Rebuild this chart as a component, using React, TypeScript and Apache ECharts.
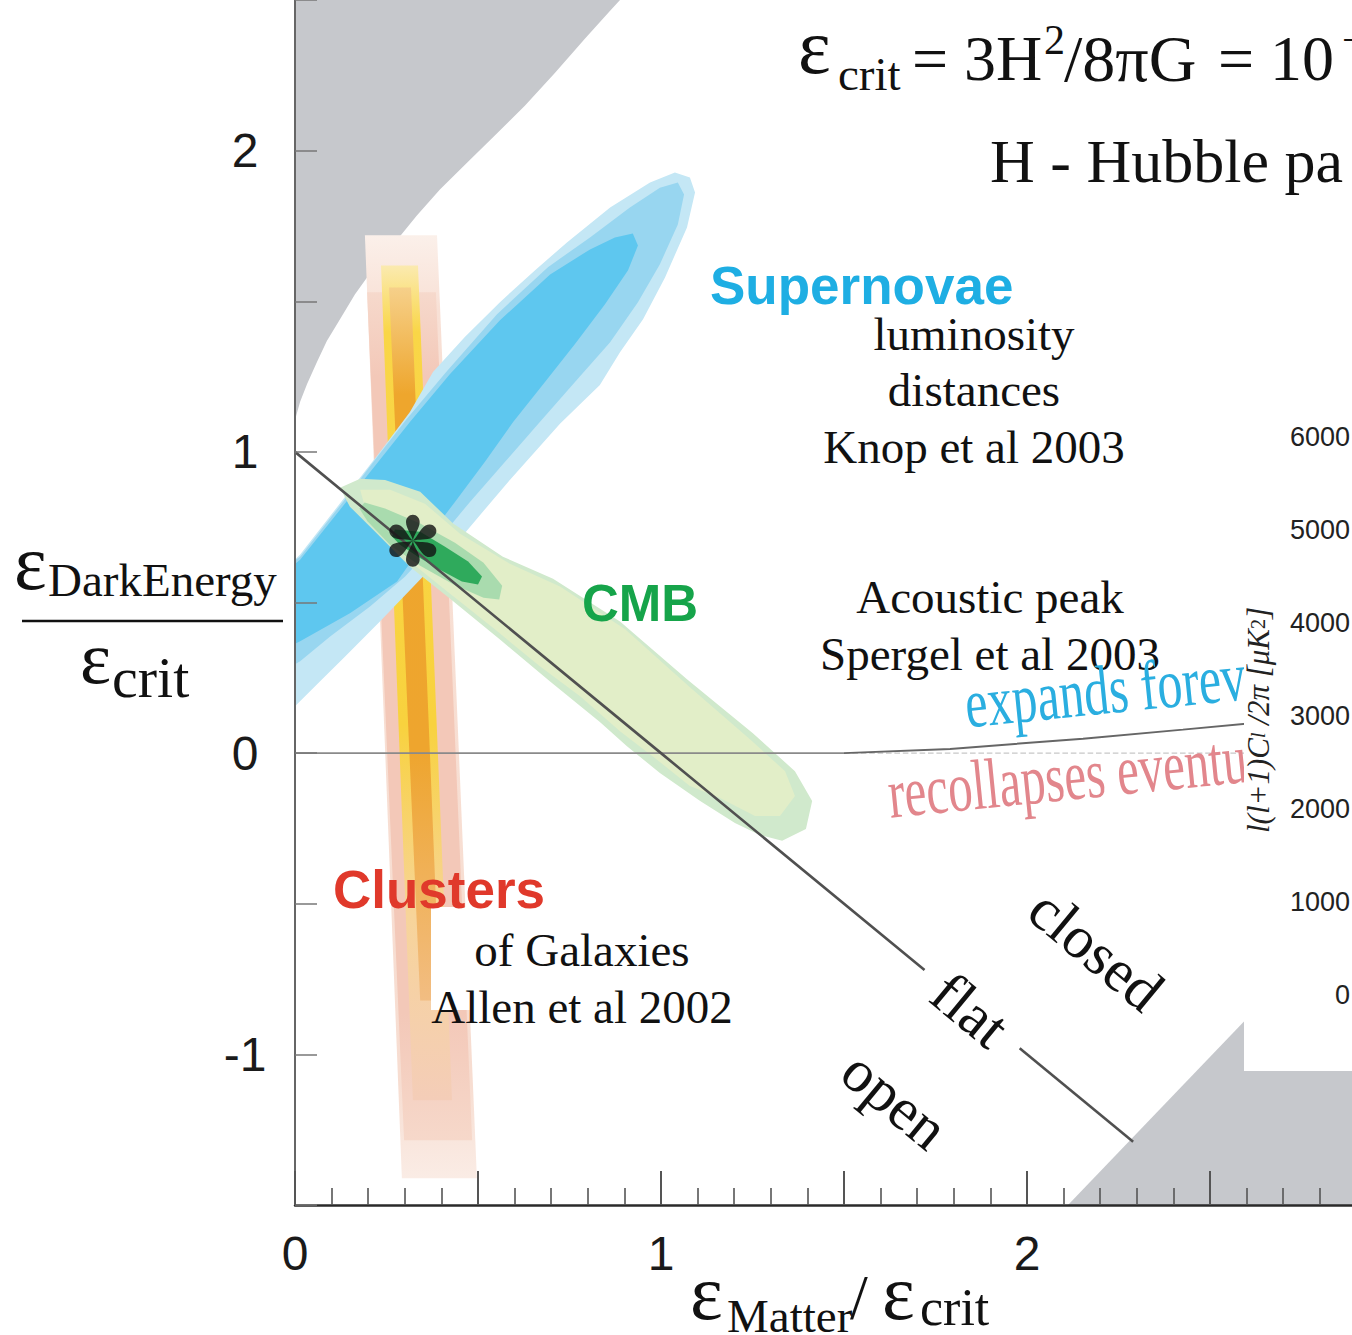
import React, { useEffect, useRef } from 'react';
import * as echarts from 'echarts';

// ---------- axis data ----------
const xRange = [0, 3];
const yRange = [-1.5, 2.5];
const xLabeledTicks = [0, 1, 2];
const yLabeledTicks = [-1, 0, 1, 2];
const insetTicks = [0, 6000];

// ---------- regions (data coordinates: matter density, dark-energy density) ----------
const noBigBangRegion = [
  [0, 2.5], [0.888, 2.5], [0.861, 2.464], [0.792, 2.371], [0.71, 2.258], [0.628, 2.149],
  [0.546, 2.05], [0.47, 1.96], [0.396, 1.871], [0.333, 1.785], [0.273, 1.695], [0.213, 1.606],
  [0.164, 1.523], [0.123, 1.44], [0.087, 1.368], [0.06, 1.298], [0.033, 1.225], [0.014, 1.166],
  [0.003, 1.119], [0, 1.099],
];
const bottomRightRegion = [[2.112, -1.5], [3.0, -0.375], [3.0, -1.5]];

const clustersHalo = [[0.191, 1.719], [0.388, 1.719], [0.497, -1.411], [0.292, -1.411]];
const clustersBand = [[0.197, 1.53], [0.385, 1.53], [0.484, -1.285], [0.298, -1.285]];
const clustersYellow = [[0.235, 1.619], [0.336, 1.619], [0.429, -1.152], [0.322, -1.152]];
const clustersCore = [[0.257, 1.546], [0.317, 1.546], [0.396, -0.821], [0.342, -0.821]];

const snOuter = [
  [0, 0.643], [0.014, 0.659], [0.137, 0.851], [0.232, 1.0], [0.314, 1.132], [0.377, 1.265],
  [0.464, 1.381], [0.56, 1.497], [0.656, 1.603], [0.743, 1.695], [0.861, 1.811], [0.97, 1.894],
  [1.038, 1.927], [1.079, 1.911], [1.093, 1.861], [1.071, 1.745], [1.011, 1.579], [0.951, 1.44],
  [0.888, 1.331], [0.833, 1.222], [0.724, 1.093], [0.587, 0.907], [0.451, 0.712], [0.342, 0.576],
  [0.232, 0.437], [0.137, 0.321], [0.068, 0.238], [0, 0.156],
];
const snMiddle = [
  [0, 0.64], [0.014, 0.652], [0.131, 0.834], [0.227, 0.987], [0.303, 1.106], [0.413, 1.265],
  [0.552, 1.457], [0.691, 1.613], [0.806, 1.712], [0.915, 1.811], [0.997, 1.877], [1.046, 1.894],
  [1.063, 1.854], [1.046, 1.755], [0.997, 1.623], [0.937, 1.497], [0.861, 1.364], [0.765, 1.232],
  [0.669, 1.099], [0.574, 0.967], [0.478, 0.834], [0.388, 0.702], [0.301, 0.586], [0.205, 0.487],
  [0.096, 0.387], [0.014, 0.305], [0, 0.295],
];
const snInner = [
  [0, 0.628], [0.014, 0.642], [0.123, 0.808], [0.232, 0.974], [0.314, 1.099], [0.423, 1.258],
  [0.56, 1.437], [0.697, 1.589], [0.806, 1.672], [0.874, 1.712], [0.923, 1.725], [0.937, 1.685],
  [0.91, 1.603], [0.847, 1.49], [0.765, 1.358], [0.683, 1.232], [0.596, 1.099], [0.519, 0.967],
  [0.437, 0.834], [0.355, 0.702], [0.279, 0.57], [0.15, 0.464], [0.014, 0.371], [0, 0.363],
];

const cmbOuter = [
  [0.123, 0.881], [0.178, 0.911], [0.246, 0.907], [0.342, 0.868], [0.432, 0.762], [0.568, 0.652],
  [0.705, 0.579], [0.888, 0.437], [1.071, 0.245], [1.251, 0.066], [1.366, -0.06], [1.413, -0.159],
  [1.396, -0.252], [1.331, -0.291], [1.27, -0.272], [1.202, -0.232], [1.107, -0.159], [0.997, -0.066],
  [0.907, 0.023], [0.833, 0.103], [0.697, 0.238], [0.56, 0.377], [0.423, 0.513], [0.314, 0.619],
  [0.219, 0.735], [0.15, 0.818],
];
const cmbInner = [
  [0.178, 0.874], [0.26, 0.874], [0.355, 0.828], [0.451, 0.728], [0.587, 0.629], [0.724, 0.553],
  [0.902, 0.411], [1.079, 0.219], [1.243, 0.046], [1.339, -0.06], [1.366, -0.142], [1.325, -0.209],
  [1.257, -0.209], [1.161, -0.149], [1.079, -0.109], [0.984, -0.017], [0.888, 0.073], [0.779, 0.189],
  [0.669, 0.288], [0.546, 0.411], [0.423, 0.53], [0.314, 0.636], [0.232, 0.735], [0.191, 0.818],
];
const cmbTwoSigma = [
  [0.19, 0.832], [0.246, 0.812], [0.342, 0.762], [0.437, 0.698], [0.515, 0.632], [0.566, 0.556],
  [0.558, 0.51], [0.515, 0.516], [0.437, 0.557], [0.342, 0.622], [0.262, 0.688], [0.198, 0.77],
  [0.176, 0.812],
];
const cmbOneSigma = [
  [0.273, 0.742], [0.342, 0.735], [0.41, 0.685], [0.473, 0.636], [0.511, 0.586], [0.5, 0.56],
  [0.456, 0.57], [0.396, 0.609], [0.336, 0.652], [0.287, 0.692], [0.265, 0.719],
];

// ---------- lines ----------
const flatLineA = [[0, 1], [1, 0], [1.72, -0.72]];
const flatLineB = [[1.98, -0.98], [2.29, -1.29]];
const zeroLine = [[0, 0], [1.5, 0]];
const zeroLineDashed = [[1.5, 0], [2.62, 0]];
const expansionBoundary = [[1.5, 0], [1.79, 0.014], [2.153, 0.048], [2.426, 0.078], [2.62, 0.1]];
const bestFit = [[0.322, 0.705]];

const SERIF = "'Liberation Serif', 'Times New Roman', serif";
const SANS = "'Liberation Sans', Arial, Helvetica, sans-serif";

function asteriskSymbol(): string {
  const angles = [90, 30, -30, -90, -150, 150];
  let d = '';
  for (const a of angles) {
    const r = (a * Math.PI) / 180;
    const ux = Math.cos(r), uy = -Math.sin(r);
    const vx = Math.sin(r), vy = Math.cos(r);
    const P = (p: number, q: number) =>
      `${(p * ux + q * vx).toFixed(2)} ${(p * uy + q * vy).toFixed(2)}`;
    d += `M${P(0, 0)} C${P(6, -0.9)} ${P(12, -6.6)} ${P(18.5, -6.8)} C${P(22.8, -6.9)} ${P(26, -3.8)} ${P(26, 0)} C${P(26, 3.8)} ${P(22.8, 6.9)} ${P(18.5, 6.8)} C${P(12, 6.6)} ${P(6, 0.9)} ${P(0, 0)} Z `;
  }
  return 'path://' + d;
}

const grad = (stops: [number, string][]) =>
  new echarts.graphic.LinearGradient(0, 0, 0, 1, stops.map(([offset, color]) => ({ offset, color })));

export default function App() {
  const ref = useRef<HTMLDivElement>(null);

  useEffect(() => {
    if (!ref.current) return;
    const chart = echarts.init(ref.current, null, { renderer: 'svg' });

    const layers: { pts: number[][]; fill: any }[] = [
      { pts: noBigBangRegion, fill: '#c6c8cc' },
      { pts: bottomRightRegion, fill: '#c6c8cc' },
      { pts: clustersHalo, fill: grad([[0, '#fbf0ea'], [0.08, '#f8e0d5'], [0.9, '#f7ddd1'], [1, '#faece5']]) },
      { pts: clustersBand, fill: grad([[0, '#f6d9cc'], [0.1, '#f3c8b8'], [0.85, '#f3c8b8'], [1, '#f6d8ca']]) },
      { pts: clustersYellow, fill: grad([[0, '#fbeab0'], [0.08, '#f9d647'], [0.55, '#f8d23e'], [0.78, '#f7d49a'], [1, '#f4cdb8']]) },
      { pts: clustersCore, fill: grad([[0, '#f6d08a'], [0.15, '#eea62d'], [0.65, '#eea52e'], [1, '#f2bd82']]) },
      { pts: snOuter, fill: '#c4e7f5' },
      { pts: snMiddle, fill: '#98d6f0' },
      { pts: snInner, fill: '#5ec7ef' },
      { pts: cmbOuter, fill: '#d0e9cc' },
      { pts: cmbInner, fill: '#e2eec8' },
      { pts: cmbTwoSigma, fill: '#a9dbae' },
      { pts: cmbOneSigma, fill: '#2faa5c' },
    ];

    const lineSeries = (data: number[][], color: string, width: number, type: string = 'solid', z = 5) => ({
      type: 'line',
      data,
      symbol: 'none',
      silent: true,
      z,
      lineStyle: { color, width, type },
    });

    const text = (t: string, x: number, y: number, size: number, extra: any = {}, el: any = {}) => ({
      type: 'text',
      x,
      y,
      z: 100,
      silent: true,
      ...el,
      style: {
        text: t,
        fontSize: size,
        lineHeight: size,
        fontFamily: SERIF,
        fill: '#111',
        align: 'left',
        verticalAlign: 'middle',
        ...extra,
      },
    });

    const option: any = {
      animation: false,
      backgroundColor: '#ffffff',
      grid: [
        { left: 295, top: -3, width: 1098, height: 1208 },
        { left: 1352, top: 437, width: 50, height: 558 },
      ],
      xAxis: [
        {
          type: 'value',
          gridIndex: 0,
          min: xRange[0],
          max: xRange[1],
          interval: 0.5,
          z: 10,
          axisLine: { show: true, onZero: false, lineStyle: { color: '#2a2a2a', width: 2.5 } },
          axisTick: { show: true, inside: true, length: 34, lineStyle: { color: '#555', width: 2 } },
          minorTick: { show: true, splitNumber: 5, length: 17, lineStyle: { color: '#555', width: 1.6 } },
          axisLabel: {
            margin: 24,
            fontSize: 48,
            color: '#1a1a1a',
            fontFamily: SANS,
            formatter: (v: number) => (xLabeledTicks.includes(v) ? String(v) : ''),
          },
          splitLine: { show: false },
        },
        { type: 'value', gridIndex: 1, show: false, min: 0, max: 1 },
      ],
      yAxis: [
        {
          type: 'value',
          gridIndex: 0,
          min: yRange[0],
          max: yRange[1],
          interval: 0.5,
          z: 10,
          axisLine: { show: true, onZero: false, lineStyle: { color: '#666', width: 2 } },
          axisTick: { show: true, inside: true, length: 22, lineStyle: { color: '#777', width: 1.5 } },
          axisLabel: {
            align: 'center',
            margin: 50,
            padding: [16, 0, 0, 0],
            fontSize: 48,
            color: '#1a1a1a',
            fontFamily: SANS,
            formatter: (v: number) => (yLabeledTicks.includes(v) ? String(v) : ''),
          },
          splitLine: { show: false },
        },
        {
          type: 'value',
          gridIndex: 1,
          min: insetTicks[0],
          max: insetTicks[1],
          interval: 1000,
          position: 'left',
          z: 120,
          axisLine: { show: false },
          axisTick: { show: false },
          splitLine: { show: false },
          axisLabel: {
            margin: 2,
            fontSize: 27,
            color: '#222',
            fontFamily: SANS,
            formatter: (v: number) => String(v),
          },
        },
      ],
      series: [
        {
          type: 'custom',
          coordinateSystem: 'cartesian2d',
          xAxisIndex: 0,
          yAxisIndex: 0,
          clip: true,
          silent: true,
          z: 2,
          data: layers.map(() => [0, 0]),
          renderItem: (params: any, api: any) => {
            const layer = layers[params.dataIndex];
            const points = layer.pts.map((p) => api.coord(p));
            return { type: 'polygon', shape: { points }, style: { fill: layer.fill } };
          },
        },
        lineSeries(zeroLine, '#8a8a8a', 1.6),
        lineSeries(zeroLineDashed, '#c8c8c8', 1.4, 'dashed'),
        lineSeries(expansionBoundary, '#666', 2),
        lineSeries(flatLineA, '#505050', 2.6),
        lineSeries(flatLineB, '#505050', 2.6),
        {
          type: 'scatter',
          data: bestFit,
          symbol: asteriskSymbol(),
          symbolSize: [47, 52],
          silent: true,
          z: 8,
          itemStyle: { color: '#111' },
        },
      ],
      graphic: {
        elements: [
          // critical density formula
          text('ε', 798, 46, 78),
          text('crit', 838, 74, 47),
          text('= 3H', 912, 58, 64),
          text('2', 1044, 40, 42),
          text('/8πG', 1064, 58, 66),
          text('= 10', 1218, 58, 64),
          text('−', 1342, 40, 42),
          text('H - Hubble pa', 990, 161, 62),
          // y-axis title
          text('ε', 14, 562, 78),
          text('DarkEnergy', 48, 580, 47),
          { type: 'line', z: 100, silent: true, shape: { x1: 22, y1: 621, x2: 283, y2: 621 }, style: { stroke: '#111', lineWidth: 2.5 } },
          text('ε', 80, 658, 74),
          text('crit', 112, 677, 58),
          // x-axis title
          text('ε', 690, 1292, 78),
          text('Matter', 727, 1316, 47),
          text('/', 850, 1297, 64),
          text('ε', 882, 1292, 78),
          text('crit', 920, 1307, 52),
          // Supernovae
          text('Supernovae', 710, 285, 53, { fontFamily: SANS, fontWeight: 'bold', fill: '#1eaee3' }),
          text('luminosity', 974, 334, 47, { align: 'center' }),
          text('distances', 974, 390, 47, { align: 'center' }),
          text('Knop et al 2003', 974, 447, 47, { align: 'center' }),
          // CMB
          text('CMB', 582, 603, 51, { fontFamily: SANS, fontWeight: 'bold', fill: '#16a44a' }),
          text('Acoustic peak', 990, 597, 47, { align: 'center' }),
          text('Spergel et al 2003', 990, 654, 47, { align: 'center' }),
          // expansion fate
          text('expands forever', 965, 704, 50, { fill: '#2aaee0' }, { rotation: 0.1, scaleY: 1.4 }),
          text('recollapses eventually', 888, 794, 49, { fill: '#e2868c' }, { rotation: 0.1, scaleY: 1.45 }),
          // Clusters
          text('Clusters', 333, 889, 53, { fontFamily: SANS, fontWeight: 'bold', fill: '#e0392b' }),
          { type: 'rect', z: 99, silent: true, shape: { x: 431, y: 907, width: 346, height: 103 }, style: { fill: '#ffffff' } },
          text('of Galaxies', 582, 950, 47, { align: 'center' }),
          text('Allen et al 2002', 582, 1007, 47, { align: 'center' }),
          // geometry
          text('closed', 1096, 950, 60, { align: 'center' }, { rotation: -0.69 }),
          text('flat', 970, 1010, 60, { align: 'center' }, { rotation: -0.69 }),
          text('open', 895, 1100, 60, { align: 'center' }, { rotation: -0.69 }),
          // inset of the CMB power spectrum
          { type: 'rect', z: 110, silent: true, shape: { x: 1244, y: 385, width: 120, height: 686 }, style: { fill: '#ffffff' } },
          {
            type: 'text',
            x: 1258,
            y: 720,
            z: 115,
            silent: true,
            rotation: Math.PI / 2,
            style: {
              text: '{a|l(l+1)C}{s|l}{a| /2π [μK}{p|2}{a|]}',
              align: 'center',
              verticalAlign: 'middle',
              rich: {
                a: { fontSize: 31, fontStyle: 'italic', fontFamily: SERIF, fill: '#222' },
                s: { fontSize: 20, fontStyle: 'italic', fontFamily: SERIF, fill: '#222' },
                p: { fontSize: 20, fontFamily: SERIF, fill: '#222' },
              },
            },
          },
        ],
      },
    };

    chart.setOption(option);
    return () => chart.dispose();
  }, []);

  return (
    <div
      style={{
        position: 'absolute',
        left: 0,
        top: 0,
        width: 1352,
        height: 1335,
        overflow: 'hidden',
        background: '#fff',
      }}
    >
      <div ref={ref} style={{ width: 1420, height: 1335 }} />
    </div>
  );
}
